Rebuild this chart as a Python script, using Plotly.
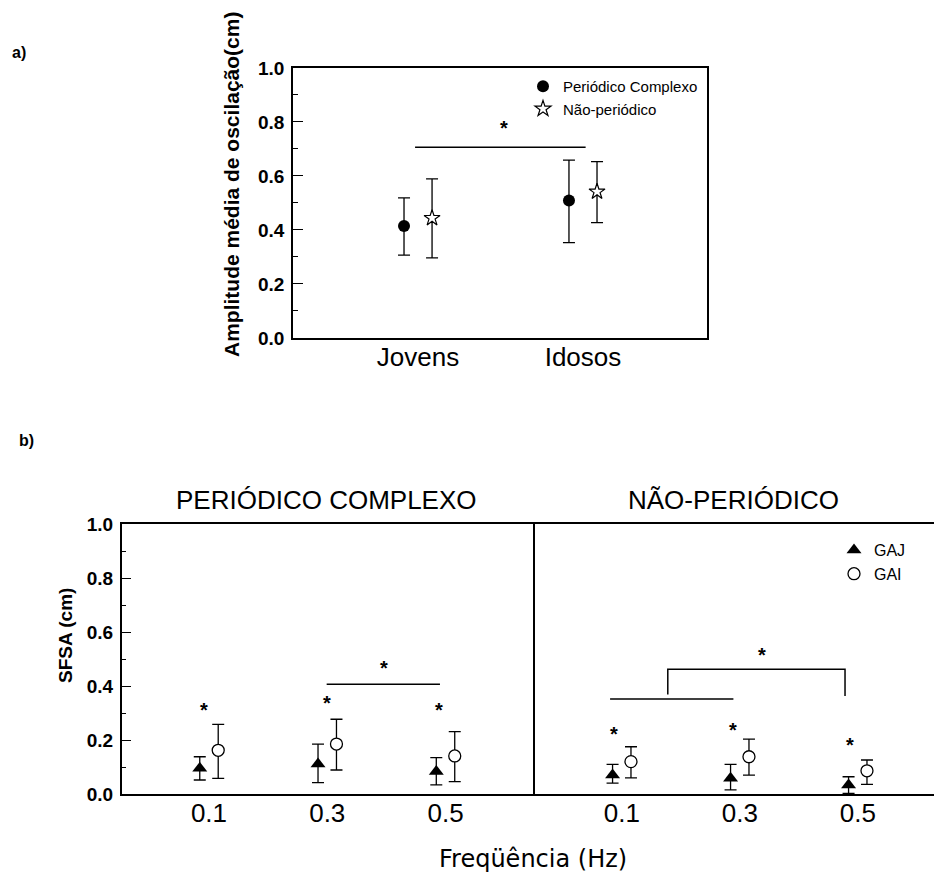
import plotly.graph_objects as go

# ---------------- panel a: mean oscillation amplitude ----------------
groups = ["Jovens", "Idosos"]
group_pos = [1, 2]
amp_pc_mean = [0.415, 0.509]
amp_pc_upper = [0.519, 0.659]
amp_pc_lower = [0.307, 0.353]
amp_np_mean = [0.444, 0.542]
amp_np_upper = [0.589, 0.653]
amp_np_lower = [0.297, 0.427]
# significance bar between groups
sig_a_x = [0.982, 2.016]
sig_a_y = [0.706, 0.706]
sig_a_star = (1.52, 0.785)

# ---------------- panel b: SFSA by frequency ----------------
freq_labels = ["0.1", "0.3", "0.5"]
freq_pos = [1, 2, 3]

pc_gaj_mean = [0.096, 0.112, 0.084]
pc_gaj_upper = [0.139, 0.186, 0.136]
pc_gaj_lower = [0.053, 0.043, 0.035]
pc_gai_mean = [0.163, 0.186, 0.142]
pc_gai_upper = [0.259, 0.278, 0.232]
pc_gai_lower = [0.059, 0.090, 0.047]

np_gaj_mean = [0.071, 0.059, 0.034]
np_gaj_upper = [0.111, 0.111, 0.065]
np_gaj_lower = [0.041, 0.016, 0.003]
np_gai_mean = [0.121, 0.139, 0.087]
np_gai_upper = [0.176, 0.204, 0.127]
np_gai_lower = [0.061, 0.071, 0.037]

# asterisks over each frequency (group difference)
pc_star_x = [0.96, 1.995, 2.945]
pc_star_y = [0.318, 0.347, 0.318]
np_star_x = [0.935, 1.941, 2.937]
np_star_y = [0.232, 0.244, 0.191]
# frequency comparisons
pc_sig_x = [1.995, 2.953]
pc_sig_y = [0.408, 0.408]
pc_sig_star = (2.482, 0.476)
np_sig_x = [0.901, 1.946]
np_sig_y = [0.353, 0.353]
np_bracket_x = [1.39, 1.39, 2.892, 2.892]
np_bracket_y = [0.370, 0.463, 0.463, 0.364]
np_sig_star = (2.19, 0.522)

FONT = "Liberation Sans, Arial, sans-serif"
OFF_A = 0.085
OFF_B = 0.078


def err(mean, upper, lower):
    return dict(type="data", symmetric=False,
                array=[u - m for u, m in zip(upper, mean)],
                arrayminus=[m - l for m, l in zip(mean, lower)],
                color="black", thickness=1.3, width=6)


def shift(pos, d):
    return [p + d for p in pos]


fig = go.Figure()

# panel a traces
fig.add_trace(go.Scatter(
    x=shift(group_pos, -OFF_A), y=amp_pc_mean, mode="markers",
    name="Periódico Complexo", legend="legend",
    marker=dict(symbol="circle", size=12, color="black"),
    error_y=err(amp_pc_mean, amp_pc_upper, amp_pc_lower),
    xaxis="x", yaxis="y"))
fig.add_trace(go.Scatter(
    x=shift(group_pos, OFF_A), y=amp_np_mean, mode="markers",
    name="Não-periódico", legend="legend",
    marker=dict(symbol="star", size=12, color="white",
                line=dict(color="black", width=1.2)),
    error_y=err(amp_np_mean, amp_np_upper, amp_np_lower),
    xaxis="x", yaxis="y"))
fig.add_trace(go.Scatter(
    x=sig_a_x, y=sig_a_y, mode="lines", showlegend=False,
    line=dict(color="black", width=1.5), xaxis="x", yaxis="y"))

# panel b traces
for (gm, gu, gl, im, iu, il, xa, ya, show) in [
    (pc_gaj_mean, pc_gaj_upper, pc_gaj_lower,
     pc_gai_mean, pc_gai_upper, pc_gai_lower, "x2", "y2", False),
    (np_gaj_mean, np_gaj_upper, np_gaj_lower,
     np_gai_mean, np_gai_upper, np_gai_lower, "x3", "y3", True),
]:
    fig.add_trace(go.Scatter(
        x=shift(freq_pos, -OFF_B), y=gm, mode="markers",
        name="GAJ", legend="legend2", showlegend=show,
        marker=dict(symbol="triangle-up", size=13, color="black"),
        error_y=err(gm, gu, gl), xaxis=xa, yaxis=ya))
    fig.add_trace(go.Scatter(
        x=shift(freq_pos, OFF_B), y=im, mode="markers",
        name="GAI", legend="legend2", showlegend=show,
        marker=dict(symbol="circle", size=12, color="white",
                    line=dict(color="black", width=1.3)),
        error_y=err(im, iu, il), xaxis=xa, yaxis=ya))

for xs, ys, xa, ya in [(pc_sig_x, pc_sig_y, "x2", "y2"),
                       (np_sig_x, np_sig_y, "x3", "y3"),
                       (np_bracket_x, np_bracket_y, "x3", "y3")]:
    fig.add_trace(go.Scatter(
        x=xs, y=ys, mode="lines", showlegend=False,
        line=dict(color="black", width=1.5), xaxis=xa, yaxis=ya))

# asterisks
STAR_FONT = dict(family=FONT, size=20, color="black", weight="bold")
stars = [(sig_a_star[0], sig_a_star[1], "x", "y"),
         (pc_sig_star[0], pc_sig_star[1], "x2", "y2"),
         (np_sig_star[0], np_sig_star[1], "x3", "y3")]
stars += [(x, y, "x2", "y2") for x, y in zip(pc_star_x, pc_star_y)]
stars += [(x, y, "x3", "y3") for x, y in zip(np_star_x, np_star_y)]
annotations = [dict(x=x, y=y, xref=xa, yref=ya, text="*", showarrow=False,
                    font=STAR_FONT, xanchor="center", yanchor="middle",
                    yshift=-2)
               for x, y, xa, ya in stars]

BOLD = dict(family=FONT, color="black", weight="bold")
annotations += [
    # y-axis titles
    dict(x=231 / 934, y=1 - 185 / 874, xref="paper", yref="paper",
         text="Amplitude média de oscilação(cm)", textangle=-90,
         showarrow=False, font=dict(size=21, **BOLD),
         xanchor="center", yanchor="middle"),
    dict(x=65 / 934, y=1 - 636 / 874, xref="paper", yref="paper",
         text="SFSA (cm)", textangle=-90,
         showarrow=False, font=dict(size=19, **BOLD),
         xanchor="center", yanchor="middle"),
    # panel headings
    dict(x=0.3498, y=0.428, xref="paper", yref="paper",
         text="PERIÓDICO COMPLEXO", showarrow=False,
         font=dict(family=FONT, size=26, color="black"),
         xanchor="center", yanchor="middle"),
    dict(x=0.7848, y=0.428, xref="paper", yref="paper",
         text="NÃO-PERIÓDICO", showarrow=False,
         font=dict(family=FONT, size=26, color="black"),
         xanchor="center", yanchor="middle"),
    # shared x-axis title
    dict(x=0.5707, y=0.0172, xref="paper", yref="paper",
         text="Freqüência (Hz)", showarrow=False,
         font=dict(family="DejaVu Sans", size=24, color="black"),
         xanchor="center", yanchor="middle"),
    # panel letters
    dict(x=0.0107, y=1 - 53 / 874, xref="paper", yref="paper",
         text="a)", showarrow=False, font=dict(size=16, **BOLD),
         xanchor="left", yanchor="middle"),
    dict(x=0.0182, y=1 - 440 / 874, xref="paper", yref="paper",
         text="b)", showarrow=False, font=dict(size=16, **BOLD),
         xanchor="left", yanchor="middle"),
]

TICKFONT_Y = dict(family=FONT, size=19, color="black", weight="bold")
TICKFONT_X = dict(family=FONT, size=26, color="black")


def yaxis_common(domain, anchor):
    return dict(domain=domain, range=[0, 1], dtick=0.2, tickformat=".1f",
                ticks="inside", ticklen=10, tickwidth=1.2, tickcolor="black",
                minor=dict(ticks="inside", ticklen=5, dtick=0.1,
                           tickcolor="black", tickwidth=1.2, showgrid=False),
                showline=True, linecolor="black", linewidth=1.5, mirror=True,
                showgrid=False, zeroline=False, tickfont=TICKFONT_Y,
                ticklabelstandoff=3, automargin=False, anchor=anchor)


def xaxis_common(domain, rng, vals, text, anchor):
    return dict(domain=domain, range=rng, tickvals=vals, ticktext=text,
                ticks="", showline=True, linecolor="black", linewidth=1.5,
                mirror=True, showgrid=False, zeroline=False,
                tickfont=TICKFONT_X, ticklabelstandoff=-5, automargin=False,
                anchor=anchor)


fig.update_layout(
    width=934, height=874, autosize=False,
    margin=dict(l=0, r=0, t=0, b=0, pad=0),
    paper_bgcolor="white", plot_bgcolor="white",
    font=dict(family=FONT, color="black"),
    xaxis=xaxis_common([0.3137, 0.7570], [0.242, 2.752], group_pos, groups,
                       "y"),
    yaxis=yaxis_common([0.6133, 0.9222], "x"),
    xaxis2=xaxis_common([0.1303, 0.5707], [0.262, 3.74], freq_pos,
                        freq_labels, "y2"),
    yaxis2=yaxis_common([0.0912, 0.4001], "x2"),
    xaxis3=xaxis_common([0.5707, 1.0], [0.248, 3.646], freq_pos,
                        freq_labels, "y3"),
    yaxis3=dict(domain=[0.0912, 0.4001], range=[0, 1], showline=False,
                showticklabels=False, ticks="", showgrid=False,
                zeroline=False, automargin=False, anchor="x3"),
    legend=dict(x=(562 - 39) / 934, y=1 - 70 / 874, xanchor="left",
                yanchor="top", bgcolor="rgba(0,0,0,0)",
                font=dict(family=FONT, size=15, color="black"),
                itemwidth=30, tracegroupgap=0),
    legend2=dict(x=(873 - 39) / 934, y=1 - 533 / 874, xanchor="left",
                 yanchor="top", bgcolor="rgba(0,0,0,0)",
                 font=dict(family=FONT, size=16, color="black"),
                 itemwidth=30, tracegroupgap=0),
    annotations=annotations,
)

fig.write_html("out.html")
